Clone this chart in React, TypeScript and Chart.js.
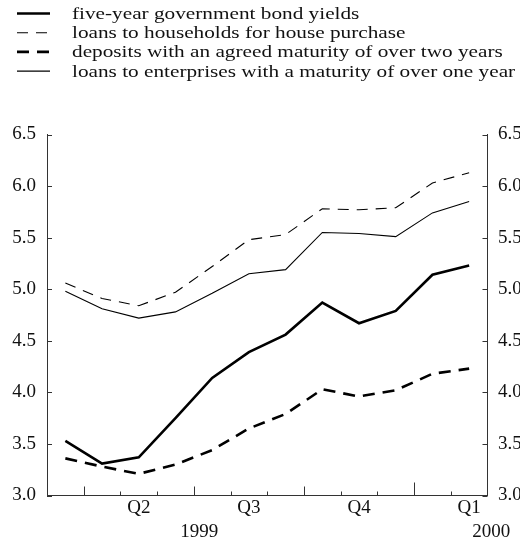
import React, { useEffect, useRef } from 'react';
import { Chart, registerables } from 'chart.js';

Chart.register(...registerables);

// ---- data ----
const months = [
  'Mar 1999', 'Apr 1999', 'May 1999', 'Jun 1999', 'Jul 1999', 'Aug 1999',
  'Sep 1999', 'Oct 1999', 'Nov 1999', 'Dec 1999', 'Jan 2000', 'Feb 2000',
];
const quarterLabels = ['', '', 'Q2', '', '', 'Q3', '', '', 'Q4', '', '', 'Q1'];
const yearLabels = ['1999', '2000'];
const yearLabelAt = [3.65, 11.6];

const bondYields = [3.53, 3.31, 3.37, 3.75, 4.14, 4.39, 4.56, 4.87, 4.67, 4.79, 5.14, 5.23];
const housePurchase = [5.06, 4.91, 4.84, 4.97, 5.22, 5.48, 5.53, 5.78, 5.77, 5.79, 6.03, 6.13];
const deposits = [3.36, 3.28, 3.21, 3.3, 3.44, 3.65, 3.79, 4.03, 3.96, 4.02, 4.18, 4.23];
const enterprises = [4.98, 4.81, 4.72, 4.78, 4.96, 5.15, 5.19, 5.55, 5.54, 5.51, 5.74, 5.85];

const seriesNames = [
  'five-year government bond yields',
  'loans to households for house purchase',
  'deposits with an agreed maturity of over two years',
  'loans to enterprises with a maturity of over one year',
];

const yMin = 3.0;
const yMax = 6.5;
const yStep = 0.5;

const FONT = '"Liberation Serif", "Times New Roman", serif';
const INK = '#111111';
const AXIS = '#333333';

const legendPlugin = {
  id: 'serifLegend',
  afterDraw(chart: any) {
    const ctx = chart.ctx;
    chart.data.datasets.forEach((ds: any, i: number) => {
      const y = 13.5 + i * 19.2;
      ctx.save();
      ctx.strokeStyle = ds.borderColor;
      ctx.lineWidth = ds.borderWidth;
      ctx.setLineDash(ds.borderDash || []);
      ctx.beginPath();
      ctx.moveTo(17, y);
      ctx.lineTo(50, y);
      ctx.stroke();
      ctx.restore();
      ctx.save();
      ctx.translate(72, y);
      ctx.scale(1.25, 1);
      ctx.font = `17px ${FONT}`;
      ctx.fillStyle = INK;
      ctx.textBaseline = 'middle';
      ctx.textAlign = 'left';
      ctx.fillText(ds.label, 0, 1);
      ctx.restore();
    });
  },
};

const innerTicksPlugin = {
  id: 'innerTicks',
  afterDraw(chart: any) {
    const { ctx, chartArea, scales } = chart;
    const { left, right, bottom } = chartArea;
    ctx.save();
    ctx.strokeStyle = AXIS;
    ctx.lineWidth = 1;
    ctx.beginPath();
    scales.y.ticks.forEach((t: any) => {
      const py = Math.round(scales.y.getPixelForValue(t.value)) + 0.5;
      ctx.moveTo(left, py);
      ctx.lineTo(left + 5, py);
      ctx.moveTo(right - 5, py);
      ctx.lineTo(right, py);
    });
    const xs = scales.x;
    for (let k = 0; k < months.length - 1; k++) {
      const px = Math.round((xs.getPixelForValue(k) + xs.getPixelForValue(k + 1)) / 2) + 0.5;
      const m = months[k + 1].slice(0, 3);
      let len = 4;
      if (m === 'Jan') len = 13;
      else if (m === 'Apr' || m === 'Jul' || m === 'Oct') len = 9;
      ctx.moveTo(px, bottom);
      ctx.lineTo(px, bottom - len);
    }
    ctx.stroke();
    ctx.restore();
  },
};

export default function App() {
  const ref = useRef<HTMLCanvasElement | null>(null);

  useEffect(() => {
    if (!ref.current) return;
    const tickFont = { family: FONT, size: 19 };
    const chart = new Chart(ref.current, {
      type: 'line',
      data: {
        labels: months,
        datasets: [
          {
            label: seriesNames[0],
            data: bondYields,
            borderColor: '#000000',
            borderWidth: 2.6,
            borderDash: [],
          },
          {
            label: seriesNames[1],
            data: housePurchase,
            borderColor: '#000000',
            borderWidth: 1.1,
            borderDash: [11, 8],
          },
          {
            label: seriesNames[2],
            data: deposits,
            borderColor: '#000000',
            borderWidth: 2.6,
            borderDash: [12, 8],
          },
          {
            label: seriesNames[3],
            data: enterprises,
            borderColor: '#000000',
            borderWidth: 1.1,
            borderDash: [],
          },
        ],
      },
      options: {
        responsive: false,
        animation: false,
        layout: { padding: { top: 134.5, left: 0, right: 0, bottom: 0 } },
        elements: {
          point: { radius: 0, hoverRadius: 0 },
          line: { tension: 0, fill: false },
        },
        plugins: {
          legend: { display: false },
          tooltip: { enabled: false },
          title: { display: false },
        },
        scales: {
          x: {
            type: 'category',
            offset: true,
            grid: { display: false, drawTicks: false },
            border: { display: true, color: AXIS, width: 1 },
            ticks: {
              autoSkip: false,
              maxRotation: 0,
              minRotation: 0,
              padding: 1,
              color: INK,
              font: tickFont,
              callback: (_v: any, i: number) => quarterLabels[i],
            },
            afterFit: (s: any) => {
              s.height = 22;
            },
          },
          xYear: {
            type: 'linear',
            position: 'bottom',
            min: -0.5,
            max: 11.5,
            grid: { display: false, drawTicks: false },
            border: { display: false },
            ticks: {
              padding: 3.5,
              color: INK,
              font: tickFont,
              maxRotation: 0,
              callback: (_v: any, i: number) => yearLabels[i],
            },
            afterBuildTicks: (s: any) => {
              s.ticks = yearLabelAt.map((v) => ({ value: v }));
            },
            afterFit: (s: any) => {
              s.height = 23.5;
            },
          },
          y: {
            type: 'linear',
            position: 'left',
            min: yMin,
            max: yMax,
            grid: { display: false, drawTicks: false },
            border: { display: true, color: AXIS, width: 1 },
            ticks: {
              stepSize: yStep,
              padding: 11,
              color: INK,
              font: tickFont,
              callback: (v: any) => Number(v).toFixed(1),
            },
            afterFit: (s: any) => {
              s.width = 47;
            },
          },
          y2: {
            type: 'linear',
            position: 'right',
            min: yMin,
            max: yMax,
            grid: { display: false, drawTicks: false },
            border: { display: true, color: AXIS, width: 1 },
            ticks: {
              stepSize: yStep,
              padding: 10.5,
              color: INK,
              font: tickFont,
              callback: (v: any) => Number(v).toFixed(1),
            },
            afterFit: (s: any) => {
              s.width = 32.5;
            },
          },
        },
      },
      plugins: [legendPlugin, innerTicksPlugin],
    } as any);
    return () => chart.destroy();
  }, []);

  return (
    <div style={{ position: 'fixed', left: 0, top: 0, width: 520, height: 541, overflow: 'hidden', background: '#ffffff' }}>
      <canvas ref={ref} width={520} height={541} style={{ display: 'block' }} />
    </div>
  );
}
